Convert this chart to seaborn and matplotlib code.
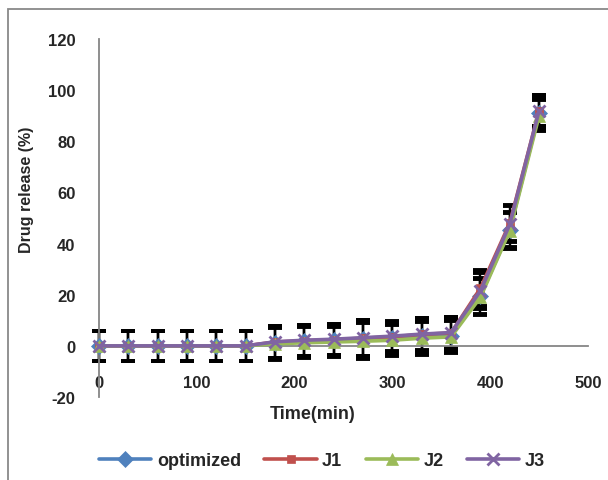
import matplotlib
matplotlib.use('Agg')
import matplotlib.pyplot as plt
from matplotlib.patches import Rectangle
import pandas as pd
import seaborn as sns

# Data
time_min = [0, 30, 60, 90, 120, 150, 180, 210, 240, 270, 300, 330, 360, 390, 420, 450]
optimized = [0, 0, 0, 0, 0, 0, 1.2, 1.8, 2.2, 2.5, 3.0, 3.8, 4.0, 19.5, 45.5, 91.0]
j1 = [0, 0, 0, 0, 0, 0, 1.5, 2.0, 2.4, 3.0, 3.5, 4.5, 5.0, 22.5, 48.0, 92.0]
j2 = [0, 0, 0, 0, 0, 0, 0.8, 1.2, 1.5, 1.8, 2.2, 3.0, 3.5, 19.0, 45.0, 90.0]
j3 = [0, 0, 0, 0, 0, 0, 1.6, 2.2, 2.6, 3.2, 3.8, 4.6, 5.2, 21.5, 47.5, 92.0]
err = [6, 6, 6, 6, 6, 6, 6.2, 6.1, 6.0, 7.0, 6.0, 6.4, 6.1, 7.0, 7.0, 6.0]

series_names = ['optimized', 'J1', 'J2', 'J3']
series_values = [optimized, j1, j2, j3]
colors = ['#4F81BD', '#C0504D', '#9BBB59', '#8064A2']
markers = ['D', 's', '^', 'x']
marker_sizes = [8.5, 6, 8, 8]

sns.set_style('white')
plt.rcParams['font.family'] = ['Liberation Sans', 'DejaVu Sans']
plt.rcParams['font.weight'] = 'bold'
plt.rcParams['axes.unicode_minus'] = False

fig = plt.figure(figsize=(6.08, 4.81), dpi=100)
ax = fig.add_axes([99 / 608, 1 - 398 / 481, 489 / 608, 358 / 481])

df = pd.DataFrame({'time': time_min})
for name, vals in zip(series_names, series_values):
    df[name] = vals

# error bars first, lines and markers on top
for name in series_names:
    ax.errorbar(df['time'], df[name], yerr=err, fmt='none', ecolor='black',
                elinewidth=1.6, capsize=4.8, capthick=2.8, zorder=1, clip_on=False)

for name, c, m, ms in zip(series_names, colors, markers, marker_sizes):
    sns.lineplot(data=df, x='time', y=name, ax=ax, color=c, marker=m,
                 markersize=ms, markeredgecolor=c, markeredgewidth=2 if m == 'x' else 0.5,
                 linewidth=2.6, label=name, clip_on=False, zorder=3)

ax.set_xlim(0, 500)
ax.set_ylim(-20, 120)
ax.set_xticks(range(0, 501, 100))
ax.set_yticks(range(-20, 121, 20))
ax.tick_params(axis='both', length=0, labelsize=12)
ax.tick_params(axis='y', pad=17)
ax.tick_params(axis='x', pad=21)
for lbl in ax.get_xticklabels() + ax.get_yticklabels():
    lbl.set_fontweight('bold')

ax.spines['top'].set_visible(False)
ax.spines['right'].set_visible(False)
ax.spines['bottom'].set_position(('data', 0))
for s in ['left', 'bottom']:
    ax.spines[s].set_color('#868686')
    ax.spines[s].set_linewidth(1.3)
ax.set_xlabel('')
ax.set_ylabel('')

fig.text(27 / 608, 1 - 190 / 481, 'Drug release (%)', rotation=90, ha='center',
         va='center', fontsize=11.5, fontweight='bold')
fig.text(313 / 608, 1 - 415 / 481, 'Time(min)', ha='center', va='center',
         fontsize=13, fontweight='bold')

ax.legend_.remove()
handles, labels = ax.get_legend_handles_labels()
fig.legend(handles, labels, loc='center', bbox_to_anchor=(322 / 608, 1 - 462 / 481),
           ncol=4, frameon=False, handlelength=2.9, handletextpad=0.3,
           columnspacing=1.3, prop={'weight': 'bold', 'size': 13})

# outer chart border (left and top visible in the reference)
fig.add_artist(Rectangle((8 / 608, -0.1), 1.2, 1 - 10 / 481 + 0.1, transform=fig.transFigure,
                         fill=False, edgecolor='#898989', linewidth=1.3))

fig.savefig('out.png', dpi=100)
